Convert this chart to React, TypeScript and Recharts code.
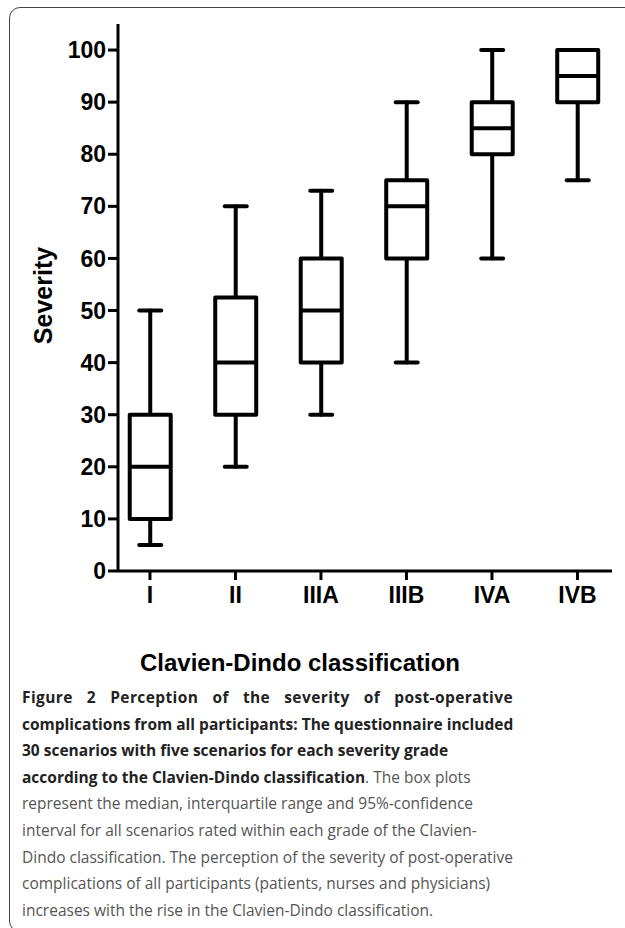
import React from 'react';
import { ComposedChart, Bar, XAxis, YAxis } from 'recharts';

const categories = ['I', 'II', 'IIIA', 'IIIB', 'IVA', 'IVB'];
const mins = [5, 20, 30, 40, 60, 75];
const q1s = [10, 30, 40, 60, 80, 90];
const medians = [20, 40, 50, 70, 85, 95];
const q3s = [30, 52.5, 60, 75, 90, 100];
const maxs = [50, 70, 73, 90, 100, 100];
const yTicks = [0, 10, 20, 30, 40, 50, 60, 70, 80, 90, 100];

const data = categories.map((c, i) => ({
  idx: i,
  name: c,
  range: [mins[i], maxs[i]],
  min: mins[i],
  q1: q1s[i],
  median: medians[i],
  q3: q3s[i],
  max: maxs[i],
}));

const AXIS_FONT = '"Liberation Sans", Arial, Helvetica, sans-serif';

const BoxShape = (props: any) => {
  const { x, y, width, height, payload } = props;
  if (x == null || y == null) return null;
  const cx = x + width / 2;
  const top = Math.min(y, y + height);
  const bottom = Math.max(y, y + height);
  const lo = payload.min;
  const hi = payload.max;
  const pix = (v: number) => (hi === lo ? top : top + ((bottom - top) * (hi - v)) / (hi - lo));
  const bw = 41;
  const cap = 11;
  const yMax = pix(payload.max);
  const yMin = pix(payload.min);
  const yQ1 = pix(payload.q1);
  const yQ3 = pix(payload.q3);
  const yMed = pix(payload.median);
  const sw = 4;
  return (
    <g>
      <line x1={cx} x2={cx} y1={yMax} y2={yQ3} stroke="#000" strokeWidth={sw} strokeLinecap="round" />
      <line x1={cx} x2={cx} y1={yQ1} y2={yMin} stroke="#000" strokeWidth={sw} strokeLinecap="round" />
      <line x1={cx - cap} x2={cx + cap} y1={yMax} y2={yMax} stroke="#000" strokeWidth={sw} strokeLinecap="round" />
      <line x1={cx - cap} x2={cx + cap} y1={yMin} y2={yMin} stroke="#000" strokeWidth={sw} strokeLinecap="round" />
      <rect
        x={cx - bw / 2}
        y={yQ3}
        width={bw}
        height={yQ1 - yQ3}
        fill="#fff"
        stroke="#000"
        strokeWidth={sw}
        strokeLinejoin="round"
      />
      <line x1={cx - bw / 2} x2={cx + bw / 2} y1={yMed} y2={yMed} stroke="#000" strokeWidth={sw} />
    </g>
  );
};

const captionBold = [
  'Figure 2 Perception of the severity of post-operative',
  'complications from all participants: The questionnaire included',
  '30 scenarios with five scenarios for each severity grade',
];

const lineStyle: React.CSSProperties = {
  position: 'absolute',
  left: 22,
  width: 491,
  whiteSpace: 'nowrap',
  height: 26,
  lineHeight: '26px',
};

export default function App() {
  const lineTops = [0, 1, 2, 3, 4, 5, 6, 7, 8].map((i) => 684 + i * 26.6);
  return (
    <div
      style={{
        position: 'absolute',
        left: 0,
        top: 0,
        width: 625,
        height: 928,
        overflow: 'hidden',
        background: '#fff',
      }}
    >
      <div
        style={{
          position: 'absolute',
          left: 9,
          top: 7,
          width: 720,
          height: 925,
          border: '1.5px solid #444',
          borderRadius: 11,
          boxSizing: 'border-box',
        }}
      />
      <div style={{ position: 'absolute', left: 0, top: 0 }}>
        <ComposedChart
          width={625}
          height={640}
          data={data}
          margin={{ top: 24, right: 13, left: 0, bottom: 0 }}
        >
          <XAxis
            dataKey="idx"
            type="number"
            domain={[-0.374, 5.404]}
            ticks={[0, 1, 2, 3, 4, 5]}
            allowDataOverflow
            tickFormatter={(v: number) => categories[v]}
            height={69}
            axisLine={{ stroke: '#000', strokeWidth: 3 }}
            tickLine={{ stroke: '#000', strokeWidth: 3 }}
            tickSize={9}
            tickMargin={7}
            tick={{ fill: '#000', fontSize: 23, fontWeight: 700, fontFamily: AXIS_FONT }}
          />
          <YAxis
            type="number"
            domain={[0, 105]}
            ticks={yTicks}
            allowDataOverflow
            width={118}
            axisLine={{ stroke: '#000', strokeWidth: 3 }}
            tickLine={{ stroke: '#000', strokeWidth: 3 }}
            tickSize={10}
            tickMargin={2}
            tick={{ fill: '#000', fontSize: 23, fontWeight: 700, fontFamily: AXIS_FONT }}
          />
          <Bar dataKey="range" barSize={44} shape={BoxShape} isAnimationActive={false} />
        </ComposedChart>
      </div>
      <svg width={625} height={700} style={{ position: 'absolute', left: 0, top: 0, pointerEvents: 'none' }}>
        <text
          transform="translate(52, 295.5) rotate(-90)"
          textAnchor="middle"
          fontFamily={AXIS_FONT}
          fontWeight={700}
          fontSize={25}
          fill="#000"
        >
          Severity
        </text>
        <text
          x={300}
          y={671}
          textAnchor="middle"
          fontFamily={AXIS_FONT}
          fontWeight={700}
          fontSize={24}
          fill="#000"
        >
          Clavien-Dindo classification
        </text>
      </svg>
      <div style={{ fontFamily: '"Open Sans", "Noto Sans", sans-serif', fontSize: 15.5 }}>
        <div
          style={{
            ...lineStyle,
            top: lineTops[0],
            whiteSpace: 'normal',
            textAlign: 'justify',
            textAlignLast: 'justify',
            fontWeight: 700,
            color: '#222',
            letterSpacing: 0.4,
          }}
        >
          {captionBold[0]}
        </div>
        <div style={{ ...lineStyle, top: lineTops[1], fontWeight: 700, color: '#222' }}>{captionBold[1]}</div>
        <div style={{ ...lineStyle, top: lineTops[2], fontWeight: 700, color: '#222' }}>{captionBold[2]}</div>
        <div style={{ ...lineStyle, top: lineTops[3], color: '#555' }}>
          <span style={{ fontWeight: 700, color: '#222' }}>according to the Clavien-Dindo classification</span>. The box plots
        </div>
        <div style={{ ...lineStyle, top: lineTops[4], color: '#555' }}>
          represent the median, interquartile range and 95%-confidence
        </div>
        <div style={{ ...lineStyle, top: lineTops[5], color: '#555' }}>
          interval for all scenarios rated within each grade of the Clavien-
        </div>
        <div style={{ ...lineStyle, top: lineTops[6], color: '#555' }}>
          Dindo classification. The perception of the severity of post-operative
        </div>
        <div style={{ ...lineStyle, top: lineTops[7], color: '#555' }}>
          complications of all participants (patients, nurses and physicians)
        </div>
        <div style={{ ...lineStyle, top: lineTops[8], color: '#555' }}>
          increases with the rise in the Clavien-Dindo classification.
        </div>
      </div>
    </div>
  );
}
